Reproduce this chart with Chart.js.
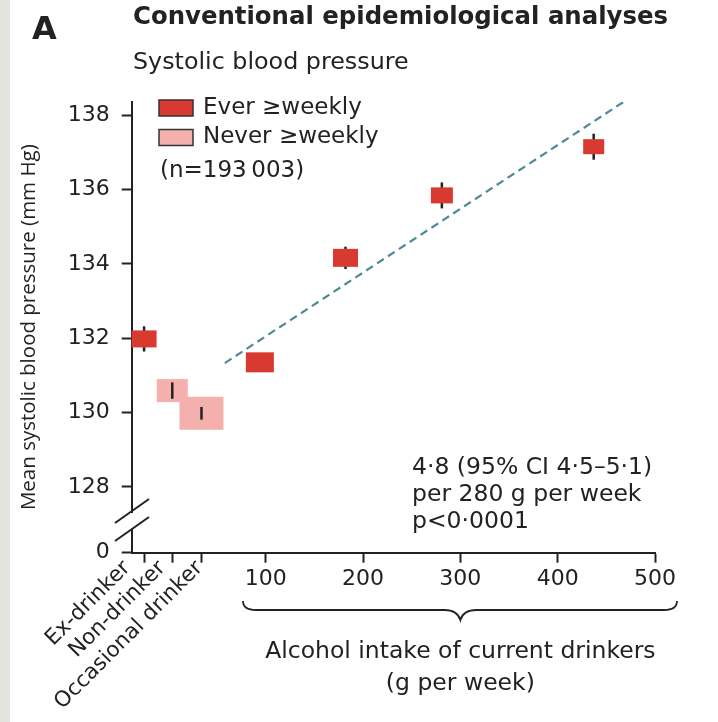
<!DOCTYPE html>
<html>
<head>
<meta charset="utf-8">
<script src="https://cdn.jsdelivr.net/npm/chart.js@4"></script>
<style>
  html, body { margin: 0; padding: 0; background: #fff; }
  canvas { display: block; }
</style>
</head>
<body>
<canvas id="grafico" width="718" height="722"></canvas>
<script>
// categories left of the intake scale, placed on their own slots of the x axis
const categories = ['Ex-drinker', 'Non-drinker', 'Occasional drinker'];
const categorySlots = [-25, 4, 34];

// Ever >=weekly (ex-drinker + current drinkers)
const everX = [-25, 94, 182, 281, 437];
const everMean = [131.98, 131.35, 134.16, 135.84, 137.15];
const everLow = [131.64, 131.15, 133.86, 135.49, 136.80];
const everHigh = [132.32, 131.55, 134.46, 136.19, 137.50];

// Never >=weekly (non-drinker, occasional drinker)
const neverX = [4, 34];
const neverMean = [130.59, 129.98];
const neverLow = [130.37, 129.81];
const neverHigh = [130.81, 130.15];

// fitted trend (4.8 per 280 g per week)
const trendX = [58, 468];
const trendY = [131.33, 138.36];

const xTicks = [100, 200, 300, 400, 500];
const yTicks = [128, 130, 132, 134, 136, 138];
const yBreak = 126.23;   // value where the "0" label sits under the axis break
const yTop = 138.36;
const xStart = -37.7;

// box sizes (px) for each marker
const everBoxW = [25, 28, 25, 22, 21];
const everBoxH = [17, 20, 18, 16, 15];
const neverBoxW = [31, 44];
const neverBoxH = [23, 33];
// the rotated labels sit a little apart from their ticks
const labelShift = [-17, -10, -2];

const red = 'rgb(216, 57, 49)';
const pink = 'rgb(244, 176, 172)';
const ink = '#222222';
const fontFam = '"DejaVu Sans", sans-serif';

Chart.defaults.font.family = fontFam;
Chart.defaults.color = ink;

function puntos(xs, ys) {
    let out = [];
    for (let i = 0; i < xs.length; i++) {
        out.push({ x: xs[i], y: ys[i] });
    }
    return out;
}

const fondoPlugin = {
    id: 'fondo',
    beforeDraw(chart) {
        const ctx = chart.ctx;
        ctx.save();
        ctx.fillStyle = '#ffffff';
        ctx.fillRect(0, 0, chart.width, chart.height);
        ctx.fillStyle = '#e4e4df';
        ctx.fillRect(0, 0, 10, chart.height);
        ctx.restore();
    }
};

const cajasPlugin = {
    id: 'cajas',
    afterDatasetsDraw(chart) {
        const ctx = chart.ctx;
        const yScale = chart.scales.y;
        chart.data.datasets.forEach(function (ds, i) {
            if (!ds.boxW) return;
            const meta = chart.getDatasetMeta(i);
            meta.data.forEach(function (pt, j) {
                const w = ds.boxW[j], h = ds.boxH[j];
                const top = yScale.getPixelForValue(ds.ciHigh[j]);
                const bot = yScale.getPixelForValue(ds.ciLow[j]);
                const caja = function () {
                    ctx.fillStyle = ds.backgroundColor;
                    ctx.fillRect(pt.x - w / 2, pt.y - h / 2, w, h);
                };
                const barra = function () {
                    ctx.strokeStyle = ink;
                    ctx.lineWidth = 2.5;
                    ctx.beginPath();
                    ctx.moveTo(pt.x, top);
                    ctx.lineTo(pt.x, bot);
                    ctx.stroke();
                };
                ctx.save();
                if (ds.barOnTop) { caja(); barra(); } else { barra(); caja(); }
                ctx.restore();
            });
        });
    }
};

const textosPlugin = {
    id: 'textos',
    afterDraw(chart) {
        const ctx = chart.ctx;
        const xScale = chart.scales.x;
        const area = chart.chartArea;
        ctx.save();
        ctx.fillStyle = ink;
        ctx.textBaseline = 'middle';
        ctx.textAlign = 'left';

        ctx.font = 'bold 32px ' + fontFam;
        ctx.fillText('A', 32, 31);
        ctx.font = 'bold 24.4px ' + fontFam;
        ctx.fillText('Conventional epidemiological analyses', 133, 18);
        ctx.font = '23.8px ' + fontFam;
        ctx.fillText('Systolic blood pressure', 133, 63);

        // legend
        ctx.font = '23px ' + fontFam;
        const sets = chart.data.datasets.filter(d => d.boxW);
        const legendY = [108, 137.5];
        sets.forEach(function (ds, k) {
            ctx.fillStyle = ds.backgroundColor;
            ctx.fillRect(159, legendY[k] - 8, 34, 16);
            ctx.strokeStyle = '#333';
            ctx.lineWidth = 1.5;
            ctx.strokeRect(159, legendY[k] - 8, 34, 16);
            ctx.fillStyle = ink;
            ctx.fillText(ds.label, 203, legendY[k]);
        });
        ctx.fillText('(n=193\u2009003)', 160, 171.5);

        // annotation
        ctx.font = '23.5px ' + fontFam;
        ctx.fillText('4\u00b78 (95% CI 4\u00b75\u20135\u00b71)', 412, 468);
        ctx.fillText('per 280 g per week', 412, 495);
        ctx.fillText('p<0\u00b70001', 412, 522);

        // rotated category labels
        ctx.font = '21.5px ' + fontFam;
        ctx.textAlign = 'right';
        for (let i = 0; i < categories.length; i++) {
            const px = xScale.getPixelForValue(categorySlots[i]);
            ctx.save();
            ctx.translate(px + labelShift[i], area.bottom + 12);
            ctx.rotate(-Math.PI / 4);
            ctx.fillText(categories[i], 0, 0);
            ctx.restore();
        }

        // axis break
        ctx.fillStyle = '#ffffff';
        ctx.fillRect(area.left - 3, 513, 6, 16);
        ctx.strokeStyle = ink;
        ctx.lineWidth = 2;
        ctx.beginPath();
        ctx.moveTo(115, 523); ctx.lineTo(149, 499);
        ctx.moveTo(115, 541); ctx.lineTo(149, 517);
        ctx.stroke();

        // brace under the intake scale
        const mid = xScale.getPixelForValue(300);
        ctx.lineWidth = 1.8;
        ctx.beginPath();
        ctx.moveTo(243, 601);
        ctx.quadraticCurveTo(243, 610, 256, 610);
        ctx.lineTo(mid - 16, 610);
        ctx.quadraticCurveTo(mid - 3, 610, mid, 620);
        ctx.quadraticCurveTo(mid + 3, 610, mid + 16, 610);
        ctx.lineTo(664, 610);
        ctx.quadraticCurveTo(677, 610, 677, 601);
        ctx.stroke();

        ctx.fillStyle = ink;
        ctx.textAlign = 'center';
        ctx.font = '23.5px ' + fontFam;
        ctx.fillText('Alcohol intake of current drinkers', mid, 652);
        ctx.fillText('(g per week)', mid, 684);
        ctx.restore();
    }
};

function grafico(ctxRef) {
    new Chart(ctxRef, {
        type: 'scatter',
        data: {
            datasets: [{
                type: 'line',
                label: 'trend',
                data: puntos(trendX, trendY),
                borderColor: '#4f8a97',
                borderWidth: 2.2,
                borderDash: [8, 5],
                pointRadius: 0,
                fill: false
            }, {
                label: 'Ever \u2265weekly',
                data: puntos(everX, everMean),
                backgroundColor: red,
                pointRadius: 0,
                ciLow: everLow,
                ciHigh: everHigh,
                boxW: everBoxW,
                boxH: everBoxH,
                barOnTop: false
            }, {
                label: 'Never \u2265weekly',
                data: puntos(neverX, neverMean),
                backgroundColor: pink,
                pointRadius: 0,
                ciLow: neverLow,
                ciHigh: neverHigh,
                boxW: neverBoxW,
                boxH: neverBoxH,
                barOnTop: true
            }]
        },
        options: {
            responsive: false,
            animation: false,
            layout: { padding: { top: 101.7, right: 63, left: 0, bottom: 0 } },
            plugins: {
                legend: { display: false },
                tooltip: { enabled: false }
            },
            scales: {
                x: {
                    type: 'linear',
                    min: xStart,
                    max: 500,
                    afterBuildTicks: function (s) {
                        s.ticks = categorySlots.concat(xTicks).map(v => ({ value: v }));
                    },
                    afterFit: function (s) { s.height = 169.3; },
                    ticks: {
                        autoSkip: false,
                        maxRotation: 0,
                        padding: 3,
                        color: ink,
                        font: { size: 22 },
                        callback: v => xTicks.includes(v) ? String(v) : ''
                    },
                    grid: { drawOnChartArea: false, tickLength: 10, tickColor: ink, tickWidth: 2 },
                    border: { color: ink, width: 2 }
                },
                y: {
                    type: 'linear',
                    min: yBreak,
                    max: yTop,
                    afterBuildTicks: function (s) {
                        s.ticks = [yBreak].concat(yTicks).map(v => ({ value: v }));
                    },
                    afterFit: function (s) { s.width = 131.7; },
                    ticks: {
                        padding: 12,
                        color: ink,
                        font: { size: 22 },
                        callback: v => v === yBreak ? '0' : String(v)
                    },
                    grid: { drawOnChartArea: false, tickLength: 10, tickColor: ink, tickWidth: 2 },
                    border: { color: ink, width: 2 },
                    title: {
                        display: true,
                        text: 'Mean systolic blood pressure (mm Hg)',
                        color: ink,
                        font: { family: '"Open Sans", sans-serif', size: 20.5 },
                        padding: { top: 16.5, bottom: 0 }
                    }
                }
            }
        },
        plugins: [fondoPlugin, cajasPlugin, textosPlugin]
    });
}

grafico(document.getElementById('grafico').getContext('2d'));
</script>
</body>
</html>
